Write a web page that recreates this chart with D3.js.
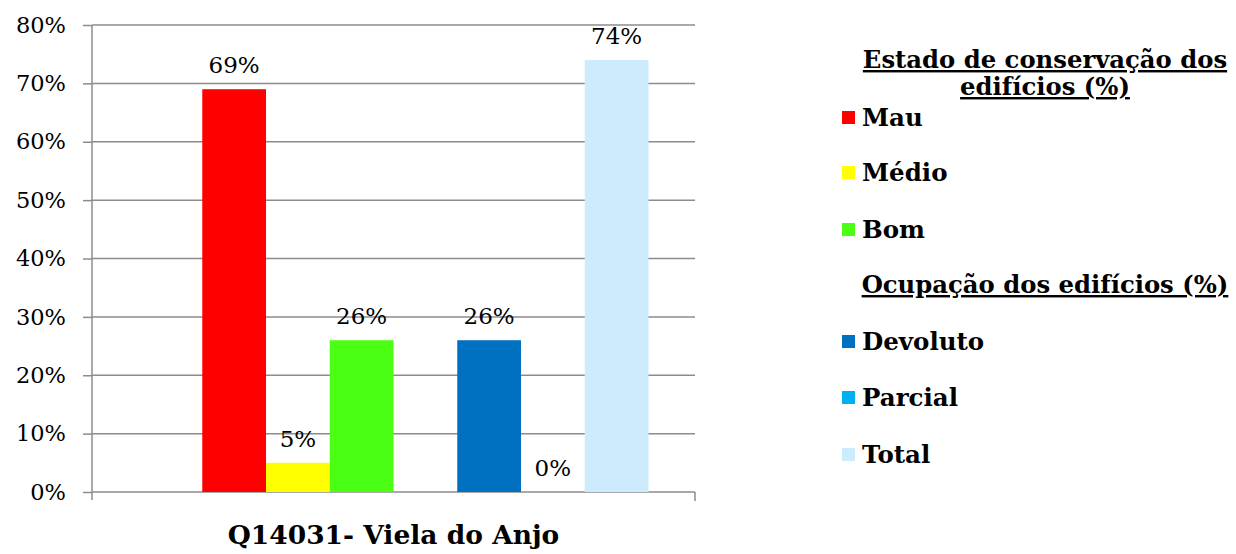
<!DOCTYPE html>
<html><head><meta charset="utf-8">
<script src="https://cdn.jsdelivr.net/npm/d3@7"></script>
<style>body{margin:0;background:#fff}svg{display:block}</style>
</head><body><svg id="c" width="1236" height="554"></svg>
<script>
const category = "Q14031- Viela do Anjo";
const slots = ["gap1","Mau","Médio","Bom","gap2","Devoluto","Parcial","Total"];
const seriesNames = ["Mau","Médio","Bom","Devoluto","Parcial","Total"];
const seriesValues = [69,5,26,26,0,74];
const seriesColors = ["#FF0000","#FFFF00","#4BFF14","#0070C0","#00B0F0","#CCEBFC"];
const yTicks = [0,10,20,30,40,50,60,70,80];
const legendTitle1 = ["Estado de conservação dos","edifícios (%)"];
const legendTitle2 = "Ocupação dos edifícios (%)";

(function(){
const font = "'DejaVu Serif', Georgia, serif";
const svg = d3.select("#c");
const pL=92,pR=695,pT=25,pB=492;
const y = d3.scaleLinear().domain([0,80]).range([pB,pT]);
const x = d3.scaleBand().domain(slots).range([pL,pR]).paddingInner(0).paddingOuter(0.73);

svg.append("g").selectAll("line").data(yTicks.filter(d=>d>0)).join("line")
  .attr("x1",pL).attr("x2",pR).attr("y1",d=>y(d)).attr("y2",d=>y(d))
  .attr("stroke","#8c8c8c").attr("stroke-width",1.5);

const ya = svg.append("g").attr("transform",`translate(${pL},0)`)
  .call(d3.axisLeft(y).tickValues(yTicks).tickFormat(d=>d+"%").tickSize(9).tickPadding(17));
ya.selectAll("path,line").attr("stroke","#8c8c8c").attr("stroke-width",1.5);
ya.select(".domain").attr("d",`M0,${pT}V${pB+8}`);
ya.selectAll("text").attr("font-family",font).attr("font-size",22.5).attr("fill","#000");

const xa = svg.append("g").attr("transform",`translate(0,${pB})`);
xa.append("line").attr("x1",pL).attr("x2",pR).attr("y1",0).attr("y2",0).attr("stroke","#8c8c8c").attr("stroke-width",1.5);
xa.append("line").attr("x1",pR).attr("x2",pR).attr("y1",0).attr("y2",9).attr("stroke","#8c8c8c").attr("stroke-width",1.5);
xa.append("text").attr("x",(pL+pR)/2).attr("y",52).attr("text-anchor","middle")
  .attr("font-family",font).attr("font-weight","bold").attr("font-size",26.5).text(category);

const data = seriesNames.map((n,i)=>({name:n,value:seriesValues[i],color:seriesColors[i]}));
svg.append("g").selectAll("rect").data(data).join("rect")
  .attr("x",d=>x(d.name)).attr("width",x.bandwidth())
  .attr("y",d=>y(d.value)).attr("height",d=>pB-y(d.value)).attr("fill",d=>d.color);
svg.append("g").selectAll("text").data(data).join("text")
  .attr("x",d=>x(d.name)+x.bandwidth()/2).attr("y",d=>y(d.value)-16)
  .attr("text-anchor","middle").attr("font-family",font).attr("font-size",23).text(d=>d.value+"%");

const lg = svg.append("g");
const tcx = 1045;
legendTitle1.forEach((t,i)=>{
  lg.append("text").attr("x",tcx).attr("y",68+i*27).attr("text-anchor","middle")
   .attr("font-family",font).attr("font-weight","bold").attr("font-size",24.3)
   .attr("text-decoration","underline").text(t);
});
lg.append("text").attr("x",tcx).attr("y",293).attr("text-anchor","middle")
   .attr("font-family",font).attr("font-weight","bold").attr("font-size",24.3)
   .attr("text-decoration","underline").text(legendTitle2);
const itemY = [117,172,229,341,397,454];
data.forEach((d,i)=>{
  lg.append("rect").attr("x",842).attr("y",itemY[i]-6).attr("width",13).attr("height",13).attr("fill",d.color);
  lg.append("text").attr("x",862).attr("y",itemY[i]+9).attr("font-family",font).attr("font-weight","bold")
    .attr("font-size",24.5).text(d.name);
});
})();
</script></body></html>
